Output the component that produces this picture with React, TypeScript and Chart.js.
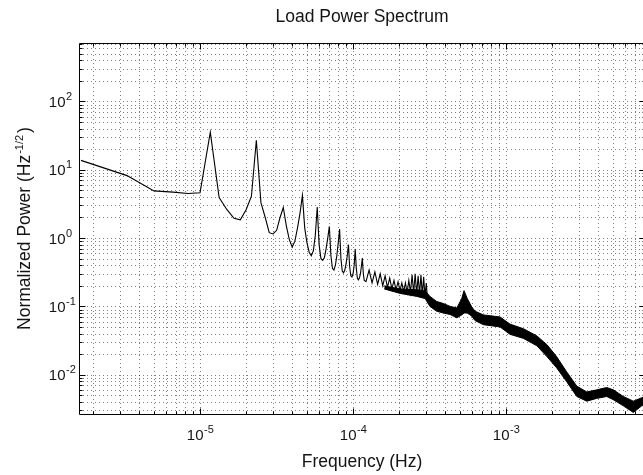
import React, { useEffect, useRef } from 'react';
import { Chart, registerables } from 'chart.js';

Chart.register(...registerables);

// ---------- text ----------
const titleText = 'Load Power Spectrum';
const xLabelText = 'Frequency (Hz)';
const yLabelMain = 'Normalized Power (Hz';
const yLabelSup = '-1/2';
const yLabelEnd = ')';

// ---------- axes ----------
const xMin = 1.618e-6;
const xMax = 8.09e-3;
const yMin = 0.00266;
const yMax = 716;
const xTickExps = [-5, -4, -3];
const yTickExps = [-2, -1, 0, 1, 2];
const xGridDecades = [-6, -5, -4, -3];
const yGridDecades = [-3, -2, -1, 0, 1, 2];
const gridMultipliers = [1, 2, 3, 4, 5, 6, 7, 8, 9];

// ---------- data: low-frequency line (individual bins, then peaks/troughs of daily harmonics) ----------
const lineFreq = [
  1.667e-6, 3.333e-6, 5.0e-6, 6.667e-6, 8.333e-6, 1.0e-5, 1.167e-5, 1.333e-5, 1.5e-5, 1.667e-5,
  1.833e-5, 2.0e-5, 2.167e-5, 2.333e-5, 2.5e-5, 2.667e-5, 2.833e-5, 3.0e-5, 3.167e-5, 3.333e-5,
  3.5e-5, 3.667e-5, 3.833e-5, 4.0e-5, 4.167e-5, 4.333e-5, 4.5e-5, 4.667e-5, 4.833e-5, 5.0e-5,
  5.167e-5, 5.333e-5, 5.5e-5, 5.667e-5, 5.833e-5, 6.0e-5, 6.167e-5, 6.333e-5, 6.5e-5, 6.667e-5,
  6.833e-5, 7.0e-5, 7.167e-5, 7.333e-5, 7.5e-5, 7.667e-5, 7.833e-5, 8.0e-5, 8.167e-5, 8.333e-5,
  8.5e-5, 8.667e-5, 8.833e-5, 9.0e-5, 9.167e-5, 9.333e-5, 9.5e-5, 9.667e-5, 9.833e-5, 1.0e-4,
  1.017e-4, 1.033e-4, 1.05e-4, 1.067e-4, 1.083e-4, 1.1e-4, 1.117e-4, 1.133e-4, 1.15e-4, 1.167e-4,
  1.183e-4,
  1.215e-4, 1.273e-4, 1.331e-4, 1.389e-4, 1.447e-4, 1.505e-4, 1.563e-4, 1.62e-4, 1.678e-4, 1.736e-4,
  1.794e-4, 1.852e-4, 1.91e-4, 1.968e-4, 2.025e-4, 2.083e-4, 2.141e-4, 2.199e-4, 2.257e-4, 2.315e-4,
  2.373e-4, 2.431e-4, 2.488e-4, 2.546e-4, 2.604e-4, 2.662e-4, 2.72e-4, 2.778e-4, 2.836e-4, 2.894e-4,
  2.951e-4, 3.009e-4, 3.067e-4,
];
const lineVals = [
  13.7, 8.2, 4.9, 4.7, 4.5, 4.6, 35.5, 3.9, 2.6, 1.95,
  1.85, 2.6, 4.1, 27, 3.3, 2.0, 1.2, 1.15, 1.3, 2.0,
  2.8, 1.5, 0.95, 0.74, 0.9, 1.4, 2.3, 4.2, 1.4, 0.85,
  0.62, 0.55, 0.65, 1.1, 2.85, 0.8, 0.5, 0.47, 0.52, 0.7,
  1.0, 1.48, 0.55, 0.36, 0.34, 0.4, 0.55, 0.85, 1.36, 0.5,
  0.33, 0.31, 0.34, 0.42, 0.55, 0.8, 0.38, 0.28, 0.27, 0.3,
  0.4, 0.69, 0.36, 0.26, 0.245, 0.26, 0.3, 0.38, 0.51, 0.3,
  0.24,
  0.23, 0.34, 0.22, 0.32, 0.21, 0.3, 0.2, 0.28, 0.19, 0.26,
  0.18, 0.24, 0.175, 0.23, 0.17, 0.22, 0.165, 0.22, 0.16, 0.24,
  0.16, 0.29, 0.155, 0.3, 0.15, 0.28, 0.15, 0.29, 0.145, 0.27,
  0.14, 0.22, 0.125,
];

// ---------- data: dense noisy high-frequency band (upper / lower envelope) ----------
const bandFreq = [
  1.6e-4, 2.03e-4, 2.61e-4, 2.96e-4, 3.18e-4, 3.52e-4, 3.9e-4, 4.31e-4, 4.77e-4,
  5.13e-4, 5.31e-4, 5.58e-4, 5.97e-4, 6.27e-4, 7.11e-4, 9.14e-4, 1.06e-3, 1.3e-3, 1.59e-3,
  1.85e-3, 2.14e-3, 2.49e-3, 2.9e-3, 3.37e-3, 3.91e-3, 4.55e-3, 5.03e-3, 5.84e-3, 6.79e-3,
  7.7e-3, 8.1e-3,
];
const bandUpper = [
  0.2, 0.18, 0.175, 0.17, 0.14, 0.118, 0.11, 0.1, 0.095,
  0.13, 0.17, 0.13, 0.098, 0.085, 0.075, 0.07, 0.055, 0.047, 0.037,
  0.0275, 0.0184, 0.011, 0.0068, 0.0056, 0.006, 0.0065, 0.006, 0.0048, 0.0041,
  0.0046, 0.0047,
];
const bandLower = [
  0.18, 0.155, 0.14, 0.13, 0.1, 0.085, 0.08, 0.076, 0.068,
  0.075, 0.08, 0.08, 0.072, 0.062, 0.054, 0.05, 0.039, 0.034, 0.0265,
  0.0184, 0.0126, 0.0079, 0.0048, 0.0041, 0.0045, 0.0048, 0.0043, 0.0035, 0.0028,
  0.0035, 0.0036,
];

const FF = '"Liberation Sans", Arial, Helvetica, sans-serif';
const TEXT = '#141414';

const matlabPlugin = {
  id: 'matlabAxes',
  beforeDatasetsDraw(chart: any) {
    const { ctx, chartArea: a } = chart;
    const xs = chart.scales.x;
    const ys = chart.scales.y;
    ctx.save();
    ctx.beginPath();
    ctx.rect(a.left, a.top, a.right - a.left, a.bottom - a.top);
    ctx.clip();
    ctx.strokeStyle = 'rgba(0,0,0,0.5)';
    ctx.lineWidth = 1;
    ctx.setLineDash([1, 3]);
    for (const e of xGridDecades) {
      for (const m of gridMultipliers) {
        const v = m * Math.pow(10, e);
        if (v <= xMin || v >= xMax) continue;
        const px = Math.round(xs.getPixelForValue(v)) + 0.5;
        ctx.beginPath();
        ctx.moveTo(px, a.top);
        ctx.lineTo(px, a.bottom);
        ctx.stroke();
      }
    }
    for (const e of yGridDecades) {
      for (const m of gridMultipliers) {
        const v = m * Math.pow(10, e);
        if (v <= yMin || v >= yMax) continue;
        const py = Math.round(ys.getPixelForValue(v)) + 0.5;
        ctx.beginPath();
        ctx.moveTo(a.left, py);
        ctx.lineTo(a.right, py);
        ctx.stroke();
      }
    }
    ctx.restore();
  },
  afterDraw(chart: any) {
    const { ctx, chartArea: a } = chart;
    const xs = chart.scales.x;
    const ys = chart.scales.y;
    ctx.save();
    ctx.setLineDash([]);
    ctx.strokeStyle = '#000';
    ctx.lineWidth = 1;
    const L = a.left + 0.5, R = a.right + 0.5, T = a.top + 0.5, B = a.bottom + 0.5;
    ctx.beginPath();
    ctx.moveTo(L, T); ctx.lineTo(R, T); ctx.lineTo(R, B); ctx.lineTo(L, B); ctx.closePath();
    ctx.stroke();

    // tick marks (inward, all four sides)
    for (const e of xGridDecades) {
      for (const m of gridMultipliers) {
        const v = m * Math.pow(10, e);
        if (v <= xMin || v >= xMax) continue;
        const len = m === 1 ? 6 : 3;
        const px = Math.round(xs.getPixelForValue(v)) + 0.5;
        ctx.beginPath();
        ctx.moveTo(px, B); ctx.lineTo(px, B - len);
        ctx.moveTo(px, T); ctx.lineTo(px, T + len);
        ctx.stroke();
      }
    }
    for (const e of yGridDecades) {
      for (const m of gridMultipliers) {
        const v = m * Math.pow(10, e);
        if (v <= yMin || v >= yMax) continue;
        const len = m === 1 ? 6 : 3;
        const py = Math.round(ys.getPixelForValue(v)) + 0.5;
        ctx.beginPath();
        ctx.moveTo(L, py); ctx.lineTo(L + len, py);
        ctx.moveTo(R, py); ctx.lineTo(R - len, py);
        ctx.stroke();
      }
    }

    ctx.fillStyle = TEXT;
    ctx.textBaseline = 'alphabetic';

    // x tick labels
    for (const e of xTickExps) {
      const px = xs.getPixelForValue(Math.pow(10, e));
      const expStr = String(e);
      ctx.font = `15px ${FF}`;
      const w1 = ctx.measureText('10').width;
      ctx.font = `11px ${FF}`;
      const w2 = ctx.measureText(expStr).width;
      const start = px - (w1 + w2) / 2;
      ctx.textAlign = 'left';
      ctx.font = `15px ${FF}`;
      ctx.fillText('10', start, a.bottom + 26);
      ctx.font = `11px ${FF}`;
      ctx.fillText(expStr, start + w1 + 0.5, a.bottom + 19);
    }

    // y tick labels
    for (const e of yTickExps) {
      const py = ys.getPixelForValue(Math.pow(10, e));
      ctx.font = `15px ${FF}`;
      ctx.textAlign = 'right';
      ctx.fillText('10', a.left - 13.5, py + 5.5);
      ctx.font = `11px ${FF}`;
      ctx.textAlign = 'left';
      ctx.fillText(String(e), a.left - 13, py - 1.5);
    }

    const cx = (a.left + a.right) / 2;
    // title
    ctx.font = `17.5px ${FF}`;
    ctx.textAlign = 'center';
    ctx.fillText(titleText, cx, 22);
    // x label
    ctx.fillText(xLabelText, cx, 467);

    // y label (rotated, with superscript)
    const cy = (a.top + a.bottom) / 2;
    ctx.font = `17.5px ${FF}`;
    const wMain = ctx.measureText(yLabelMain).width;
    const wEnd = ctx.measureText(yLabelEnd).width;
    ctx.font = `11px ${FF}`;
    const wSup = ctx.measureText(yLabelSup).width;
    const total = wMain + 1 + wSup + 2 + wEnd;
    ctx.translate(30, cy);
    ctx.rotate(-Math.PI / 2);
    ctx.textAlign = 'left';
    let x0 = -total / 2;
    ctx.font = `17.5px ${FF}`;
    ctx.fillText(yLabelMain, x0, 0);
    x0 += wMain + 1;
    ctx.font = `11px ${FF}`;
    ctx.fillText(yLabelSup, x0, -7);
    x0 += wSup + 2;
    ctx.font = `17.5px ${FF}`;
    ctx.fillText(yLabelEnd, x0, 0);
    ctx.restore();
  },
};

export default function App() {
  const ref = useRef<HTMLCanvasElement>(null);

  useEffect(() => {
    const canvas = ref.current;
    if (!canvas) return;
    const lineData = lineFreq.map((f, i) => ({ x: f, y: lineVals[i] }));
    const upperData = bandFreq.map((f, i) => ({ x: f, y: bandUpper[i] }));
    const lowerData = bandFreq.map((f, i) => ({ x: f, y: bandLower[i] }));
    const chart = new Chart(canvas, {
      type: 'line',
      data: {
        datasets: [
          { data: lineData, borderColor: '#000', borderWidth: 1.1, pointRadius: 0, fill: false, tension: 0 },
          { data: upperData, borderColor: '#000', borderWidth: 1, pointRadius: 0, fill: false, tension: 0 },
          {
            data: lowerData, borderColor: '#000', borderWidth: 1, pointRadius: 0,
            fill: '-1', backgroundColor: '#000', tension: 0,
          },
        ],
      },
      options: {
        responsive: false,
        animation: false,
        devicePixelRatio: 1,
        events: [],
        layout: { padding: { top: 43, right: 1, bottom: 0, left: 0 } },
        plugins: {
          legend: { display: false },
          tooltip: { enabled: false },
          title: { display: false },
        },
        scales: {
          x: {
            type: 'logarithmic',
            min: xMin,
            max: xMax,
            grid: { display: false },
            border: { display: false },
            ticks: { display: false },
            afterFit: (s: any) => { s.height = 61; },
          },
          y: {
            type: 'logarithmic',
            min: yMin,
            max: yMax,
            grid: { display: false },
            border: { display: false },
            ticks: { display: false },
            afterFit: (s: any) => { s.width = 79; },
          },
        },
      } as any,
      plugins: [matlabPlugin],
    });
    return () => chart.destroy();
  }, []);

  return (
    <div
      style={{
        position: 'fixed', left: 0, top: 0, width: 643, height: 475,
        overflow: 'hidden', background: '#fff',
      }}
    >
      <canvas ref={ref} width={646} height={475} style={{ display: 'block', width: 646, height: 475 }} />
    </div>
  );
}
